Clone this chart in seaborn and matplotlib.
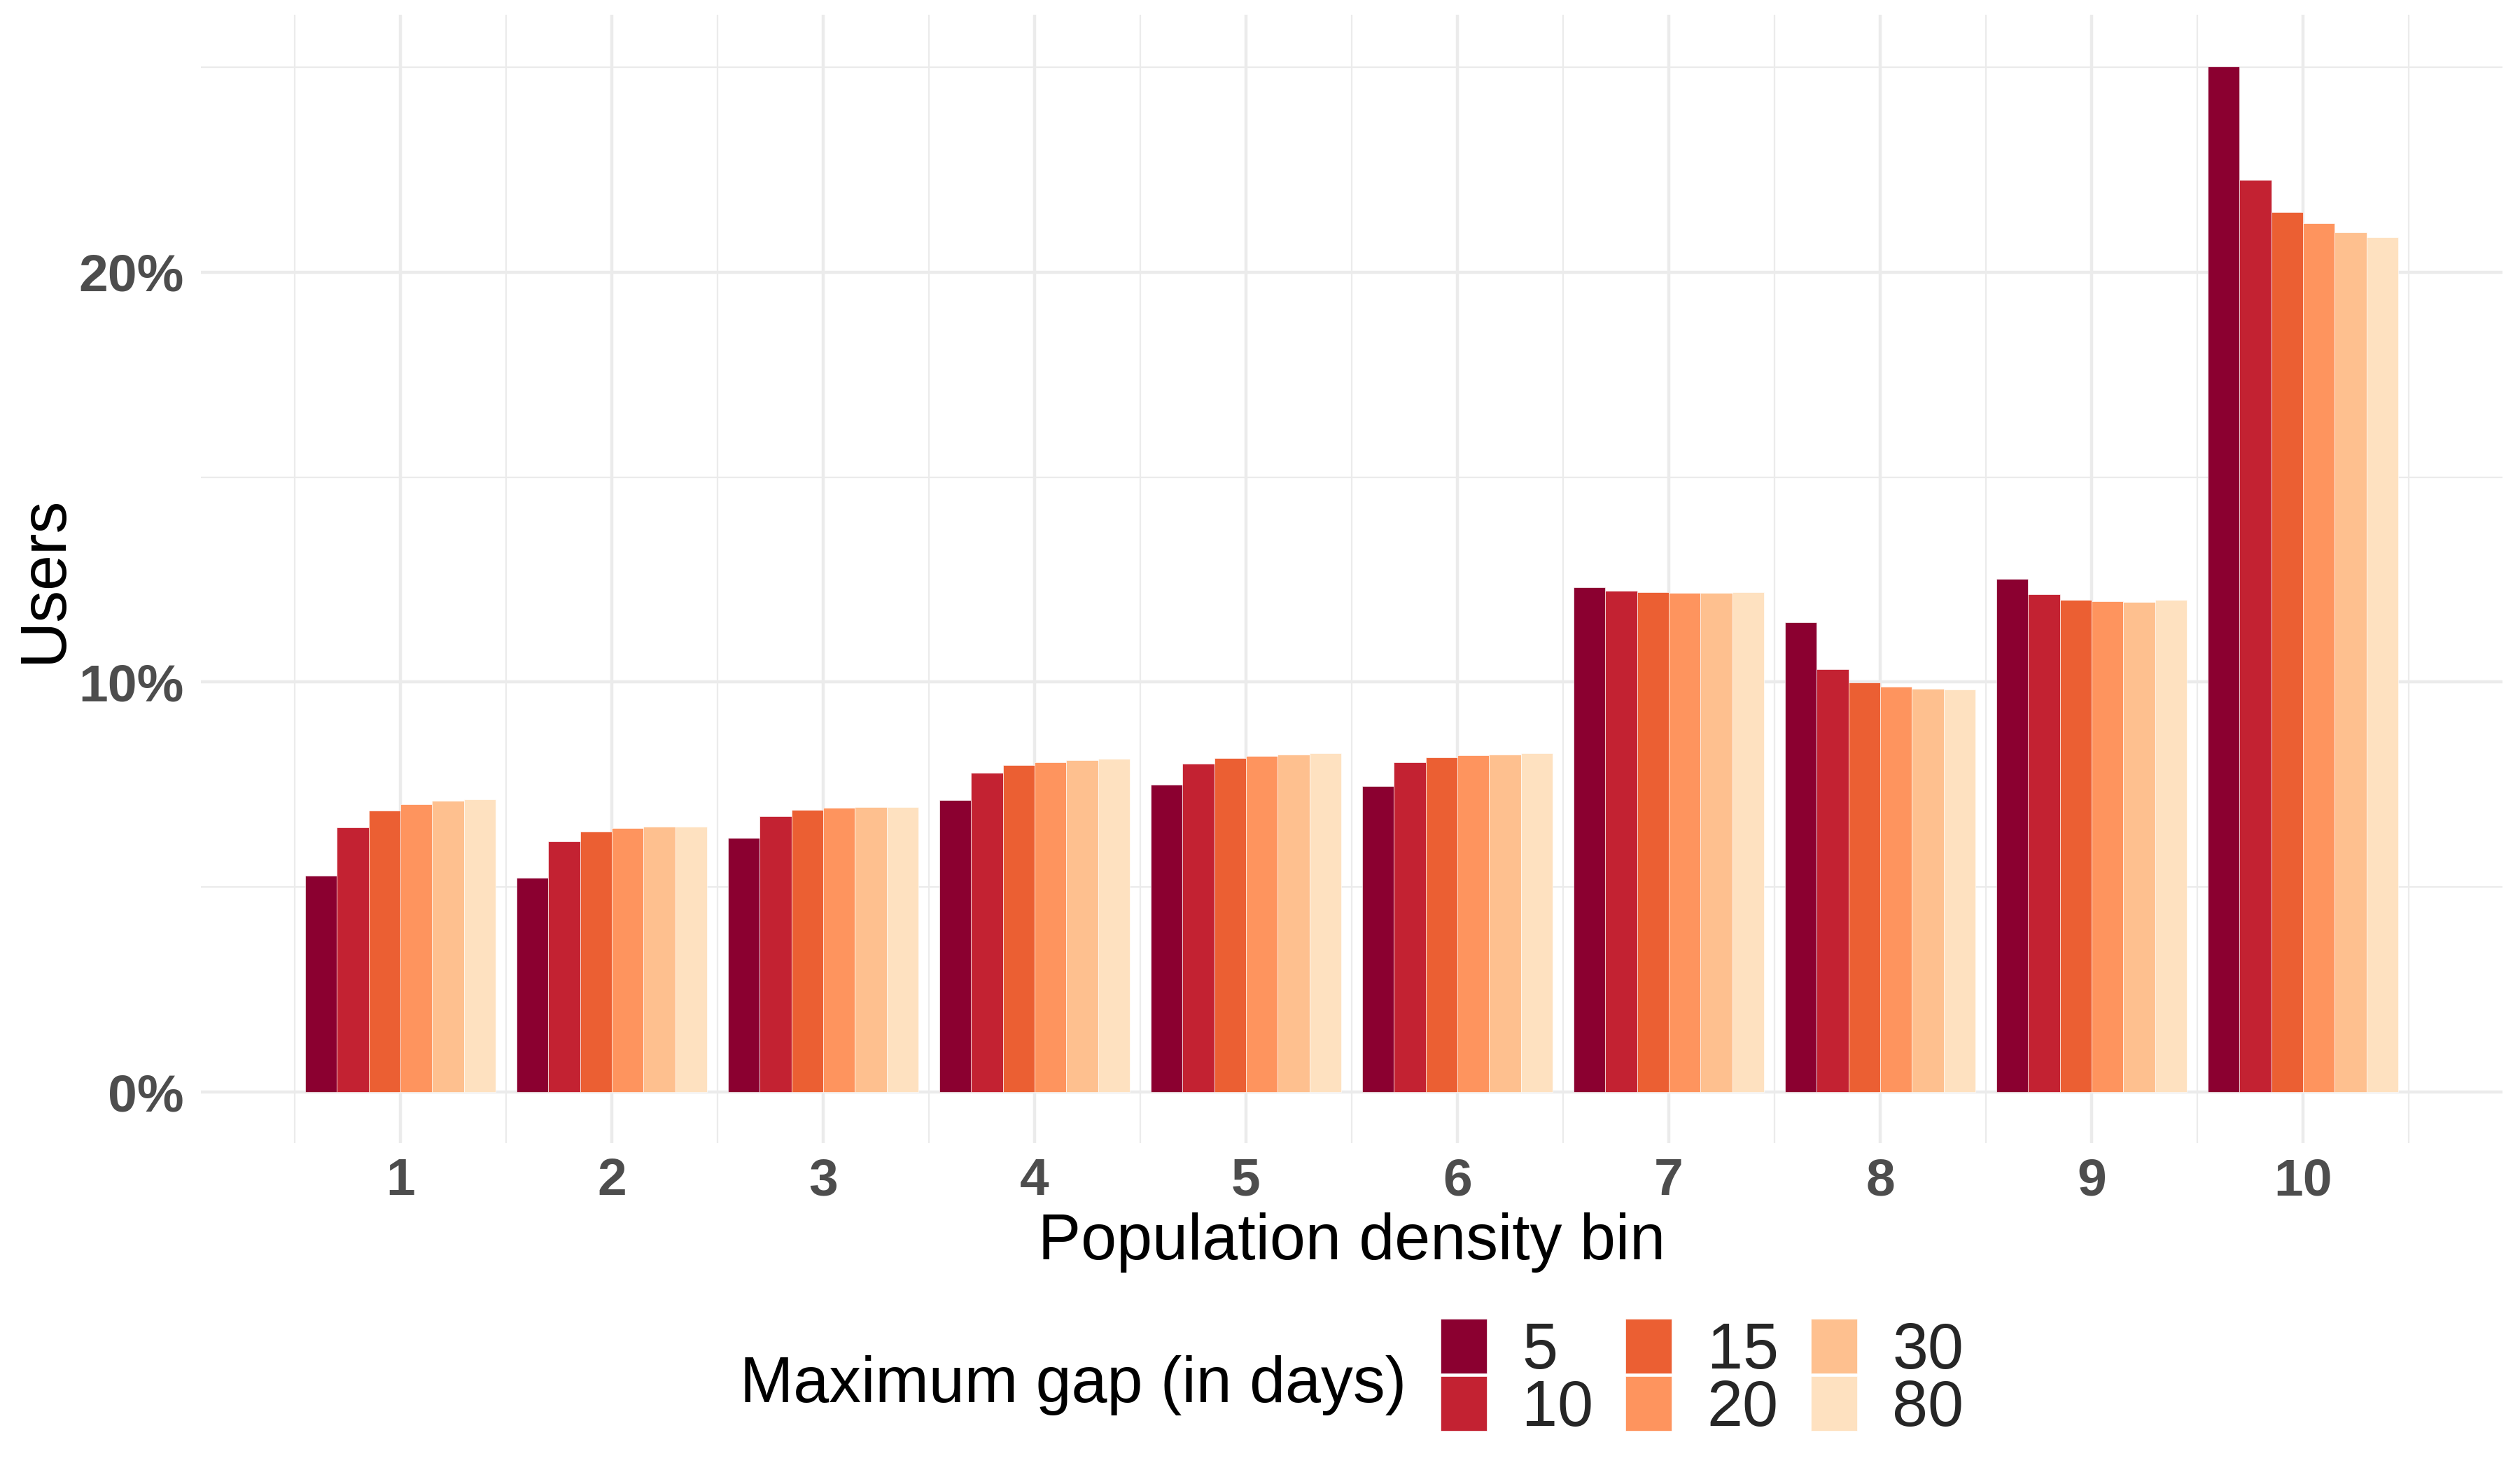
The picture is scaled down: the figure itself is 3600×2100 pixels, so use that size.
import numpy as np
import pandas as pd
import matplotlib
matplotlib.use("Agg")
import matplotlib.pyplot as plt
import seaborn as sns
from matplotlib.ticker import FixedLocator, FuncFormatter, NullFormatter

# ---- data (percent of users) ----
bins = [1, 2, 3, 4, 5, 6, 7, 8, 9, 10]
gap_labels = ["5", "10", "15", "20", "30", "80"]
gap_5 = [5.27, 5.22, 6.20, 7.12, 7.49, 7.46, 12.31, 11.46, 12.51, 25.02]
gap_10 = [6.46, 6.12, 6.72, 7.78, 8.01, 8.05, 12.22, 10.32, 12.14, 22.24]
gap_15 = [6.86, 6.36, 6.89, 7.97, 8.14, 8.17, 12.20, 9.99, 12.01, 21.46]
gap_20 = [7.01, 6.43, 6.93, 8.05, 8.19, 8.22, 12.18, 9.89, 11.97, 21.19]
gap_30 = [7.11, 6.48, 6.95, 8.09, 8.23, 8.23, 12.18, 9.83, 11.96, 20.97]
gap_80 = [7.13, 6.48, 6.95, 8.12, 8.27, 8.26, 12.19, 9.82, 12.00, 20.85]
colors = ["#8B0030", "#C32232", "#EB5F33", "#FE945E", "#FEC08F", "#FEE1C0"]
y_breaks = [0, 10, 20]
y_minor = [5, 15, 25]

series = [gap_5, gap_10, gap_15, gap_20, gap_30, gap_80]
rows = []
for g, vals in zip(gap_labels, series):
    for b, v in zip(bins, vals):
        rows.append({"bin": b, "gap": g, "users": v})
df = pd.DataFrame(rows)

sns.set_theme(style="white")
plt.rcParams["font.family"] = ["Liberation Sans", "DejaVu Sans"]

W, H = 3600, 2100
fig = plt.figure(figsize=(12, 7), dpi=300)
ax_left, ax_right, ax_top, ax_bot = 286.6, 3575.4, 21.4, 1633.3
ax = fig.add_axes([ax_left / W, 1 - ax_bot / H, (ax_right - ax_left) / W, (ax_bot - ax_top) / H])

sns.barplot(data=df, x="bin", y="users", hue="gap", hue_order=gap_labels,
            palette=colors, saturation=1, native_scale=True, width=0.9, gap=0,
            errorbar=None, edgecolor="white", linewidth=0.15, ax=ax)
handles, labels = ax.get_legend_handles_labels()
if ax.get_legend() is not None:
    ax.get_legend().remove()

# scales like ggplot (5% expansion)
lo, hi = min(bins) - 0.45, max(bins) + 0.45
pad = 0.05 * (hi - lo)
ax.set_xlim(lo - pad, hi + pad)
ymax = max(max(s) for s in series)
ax.set_ylim(-0.05 * ymax, 1.05 * ymax)

ax.xaxis.set_major_locator(FixedLocator(bins))
ax.xaxis.set_minor_locator(FixedLocator([b - 0.5 for b in bins] + [max(bins) + 0.5]))
ax.yaxis.set_major_locator(FixedLocator(y_breaks))
ax.yaxis.set_minor_locator(FixedLocator(y_minor))
ax.yaxis.set_major_formatter(FuncFormatter(lambda v, p: f"{v:.0f}%"))
ax.xaxis.set_major_formatter(FuncFormatter(lambda v, p: f"{v:.0f}"))
ax.xaxis.set_minor_formatter(NullFormatter())
ax.yaxis.set_minor_formatter(NullFormatter())

ax.set_axisbelow(True)
ax.grid(which="major", color="#EBEBEB", linewidth=1.07)
ax.grid(which="minor", color="#EBEBEB", linewidth=0.53)
for s in ax.spines.values():
    s.set_visible(False)
ax.tick_params(which="both", length=0)
ax.tick_params(axis="x", which="major", pad=4.8, labelsize=18, labelcolor="#4D4D4D")
ax.tick_params(axis="y", which="major", pad=5.8, labelsize=18, labelcolor="#4D4D4D")
for t in ax.get_xticklabels() + ax.get_yticklabels():
    t.set_fontweight("bold")
ax.set_xlabel("")
ax.set_ylabel("")

fig.text(1931 / W, 1 - 1799 / H, "Population density bin", ha="center", va="baseline",
         fontsize=22, color="black")
fig.text(88 / W, 1 - 827 / H, "Users", rotation=90, rotation_mode="anchor",
         ha="center", va="baseline", fontsize=22, color="black")

# legend
fig.text(1057 / W, 1 - 2003 / H, "Maximum gap (in days)", ha="left", va="baseline",
         fontsize=22, color="black")
leg = fig.legend(handles, labels, ncol=3, loc="center left",
                 bbox_to_anchor=(2058 / W, 1 - 1970 / H), frameon=False,
                 fontsize=22, handlelength=0.72, handleheight=0.93,
                 handletextpad=0.55, columnspacing=0.5, labelspacing=-0.08,
                 borderpad=0, borderaxespad=0)

fig.savefig("out.png", dpi=300, facecolor="white")
